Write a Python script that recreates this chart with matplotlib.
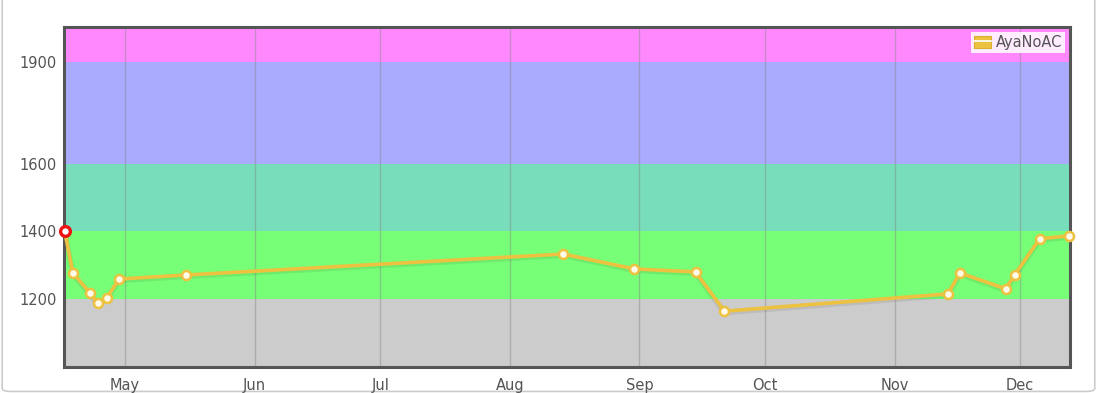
import matplotlib
matplotlib.use('Agg')
import matplotlib.pyplot as plt
import matplotlib.dates as mdates
from matplotlib.patches import FancyBboxPatch, Patch
from matplotlib.lines import Line2D
from matplotlib.legend_handler import HandlerTuple
import pandas as pd

# rating history
dates = ["2023-04-16 14:00", "2023-04-18 13:00", "2023-04-22 15:00", "2023-04-24 13:00",
         "2023-04-26 16:00", "2023-04-29 13:00", "2023-05-15 15:00", "2023-08-13 18:00",
         "2023-08-30 18:00", "2023-09-14 10:00", "2023-09-21 08:00", "2023-11-13 17:00",
         "2023-11-16 16:00", "2023-11-27 14:00", "2023-11-29 17:00", "2023-12-05 17:00",
         "2023-12-12 20:00"]
ratings = [1400, 1277, 1218, 1188, 1203, 1259, 1271, 1333, 1289, 1280, 1164, 1215,
           1277, 1230, 1271, 1378, 1387]
user = "AyaNoAC"

# rank bands
band_edges = [0, 1200, 1400, 1600, 1900, 2100]
band_colors = ["#cccccc", "#77ff77", "#77ddbb", "#aaaaff", "#ff88ff"]
yticks = [1200, 1400, 1600, 1900]

x = pd.to_datetime(dates)
line_color = "#edc240"

fig = plt.figure(figsize=(10.97, 3.93), dpi=100)
border = FancyBboxPatch((0.002, 0.004), 0.996, 1.1, transform=fig.transFigure,
                        boxstyle="round,pad=0,rounding_size=0.008",
                        fc="white", ec="#cccccc", lw=1.2, zorder=-10)
fig.patches.append(border)
ax = fig.add_axes([64 / 1097, 26 / 393, 1006 / 1097, 340 / 393])

for lo, hi, c in zip(band_edges[:-1], band_edges[1:], band_colors):
    ax.axhspan(lo, hi, color=c, lw=0, zorder=0)

ax.set_xlim(pd.Timestamp("2023-04-16 09:50"), pd.Timestamp("2023-12-12 23:00"))
ax.set_ylim(999, 2004)

ax.xaxis.set_major_locator(mdates.MonthLocator())
ax.xaxis.set_major_formatter(mdates.DateFormatter("%b"))
ax.grid(axis="x", color="#888888", alpha=0.45, lw=1, zorder=1)
ax.set_yticks(yticks)

ax.tick_params(length=0, labelsize=10.5, labelcolor="#545454")
ax.tick_params(axis="y", pad=5.5)
ax.tick_params(axis="x", pad=8)
for s in ax.spines.values():
    s.set_color("#555555")
    s.set_linewidth(2.2)

# soft shadow under the line
ax.plot(x, [r - 4 for r in ratings], color="black", alpha=0.08, lw=4, zorder=2)
ax.plot(x, ratings, color=line_color, lw=2.6, marker="o", ms=6.5, mfc="#fffbe8",
        mec=line_color, mew=1.8, zorder=3, clip_on=False)
ax.plot(x[:1], ratings[:1], marker="o", ms=7, mfc="white", mec="#ee1111", mew=2.4,
        ls="none", zorder=4, clip_on=False)

# legend: yellow box with a white dash
handle = (Patch(fc=line_color, ec="#d8b030", lw=0.8),
          Line2D([], [], color="white", lw=1.2))
leg = ax.legend([handle], [user], handler_map={tuple: HandlerTuple(ndivide=1, pad=0)},
                loc="upper right", fontsize=10.5, frameon=True, handlelength=1.2,
                handleheight=0.9, handletextpad=0.3, borderpad=0.2, borderaxespad=0.35,
                fancybox=False)
leg.get_frame().set_facecolor("white")
leg.get_frame().set_alpha(0.85)
leg.get_frame().set_linewidth(0)
for t in leg.get_texts():
    t.set_color("#545454")

fig.savefig("out.png", dpi=100)
